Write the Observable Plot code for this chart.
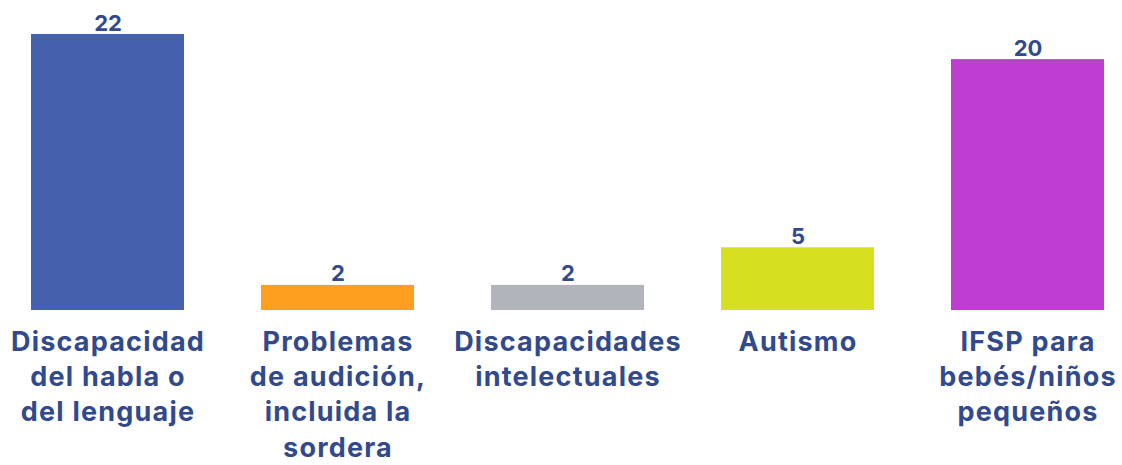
<!DOCTYPE html>
<html>
<head>
<meta charset="utf-8">
<script src="https://cdn.jsdelivr.net/npm/d3@7"></script>
<script src="https://cdn.jsdelivr.net/npm/@observablehq/plot@0.6"></script>
<style>
  html, body { margin: 0; padding: 0; background: #fff; }
  #chart svg { display: block; }
  .lbl text { letter-spacing: 1.2px; }
</style>
</head>
<body>
<div id="chart"></div>
<script>
const categories = [
  "Discapacidad\ndel habla o\ndel lenguaje",
  "Problemas\nde audición,\nincluida la\nsordera",
  "Discapacidades\nintelectuales",
  "Autismo",
  "IFSP para\nbebés/niños\npequeños"
];
const values = [22, 2, 2, 5, 20];
const colors = ["#4561AD", "#FF9F1F", "#B1B4BB", "#D6E020", "#BF3ED2"];

const data = categories.map((c, i) => ({category: c, value: values[i], color: colors[i]}));
const textColor = "#324A8B";
const font = "Inter, 'Open Sans', sans-serif";

const chart = Plot.plot({
  width: 1122,
  height: 465,
  marginTop: 34,
  marginBottom: 155,
  marginLeft: 0,
  marginRight: 0,
  style: {fontFamily: font, background: "#fff"},
  x: {domain: categories, range: [-9, 1144.5], paddingInner: 0.335, paddingOuter: 0.1675, axis: null},
  y: {domain: [0, 22], axis: null},
  marks: [
    Plot.barY(data, {x: "category", y: "value", fill: "color"}),
    Plot.text(data, {
      x: "category", y: "value", text: d => String(d.value),
      lineAnchor: "bottom", dy: -4, fontSize: 22, fontWeight: 700, fill: textColor
    }),
    Plot.text(data, {
      x: "category", y: () => 0, text: "category", className: "lbl",
      lineAnchor: "top", dy: 15, fontSize: 27, fontWeight: 700, lineHeight: 1.31, fill: textColor
    })
  ]
});
document.getElementById("chart").appendChild(chart);
</script>
</body>
</html>
